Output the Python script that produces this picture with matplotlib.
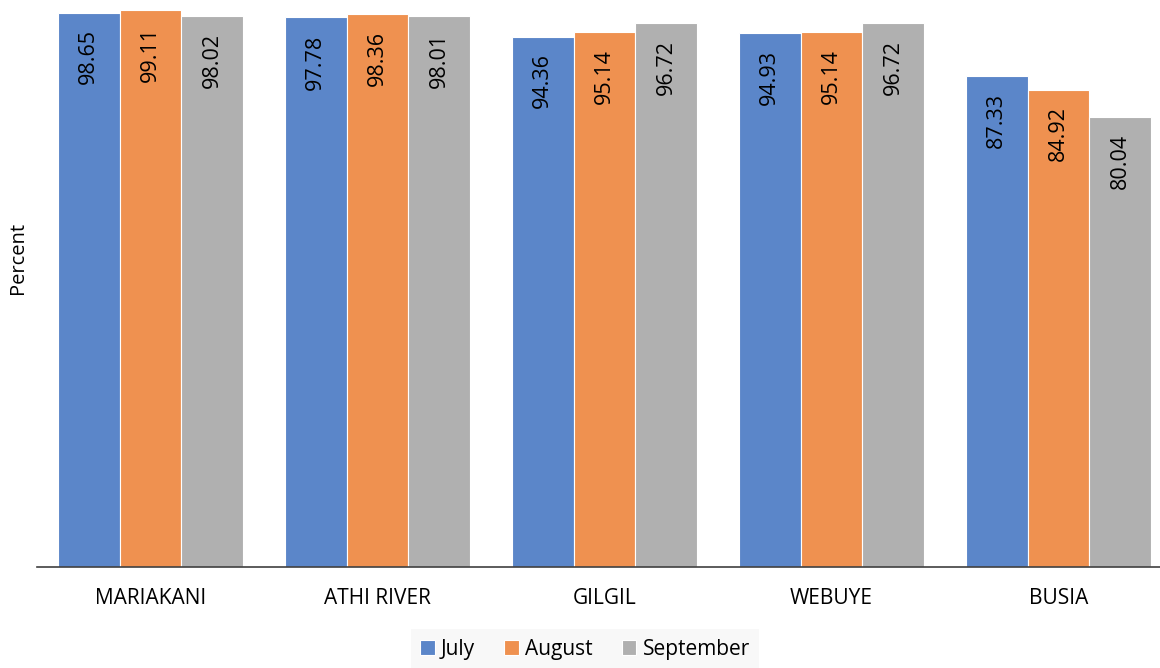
import matplotlib
matplotlib.use("Agg")
import matplotlib.pyplot as plt
import numpy as np

categories = ["MARIAKANI", "ATHI RIVER", "GILGIL", "WEBUYE", "BUSIA"]
series_names = ["July", "August", "September"]
july = [98.65, 97.78, 94.36, 94.93, 87.33]
august = [99.11, 98.36, 95.14, 95.14, 84.92]
september = [98.02, 98.01, 96.72, 96.72, 80.04]
colors = ["#5b86c9", "#ef9150", "#b0b0b0"]

plt.rcParams['font.family'] = ['Open Sans', 'DejaVu Sans']

W, H = 1160, 668
fig = plt.figure(figsize=(W/100, H/100), dpi=100)
left_px, bottom_px, top_px = 37, 567, 5
ax = fig.add_axes([left_px/W, 1-bottom_px/H, (W-left_px)/W, (bottom_px-top_px)/H])

x = np.arange(len(categories))
bw = 0.273
for i, (vals, name) in enumerate(zip([july, august, september], series_names)):
    pos = x + (i-1)*bw
    ax.bar(pos, vals, width=bw, color=colors[i], edgecolor="white", linewidth=0.8, label=name)
    for p, v in zip(pos, vals):
        ax.text(p, v - 3.0, f"{v:.2f}", rotation=90, ha="center", va="top", fontsize=15.5, color="black")

ax.set_xlim(-0.5, -0.5 + (W-left_px)/227)
ax.set_ylim(0, 100)
ax.set_yticks([])
ax.set_xticks(x)
ax.set_xticklabels(categories, fontsize=15)
ax.tick_params(axis='x', length=0, pad=15)
for s in ["top", "right", "left"]:
    ax.spines[s].set_visible(False)
ax.spines["bottom"].set_color("#404040")
ax.spines["bottom"].set_linewidth(1.2)

fig.text(18/W, 1-258/H, "Percent", rotation=90, ha="center", va="center", fontsize=14.5)

leg = fig.legend(loc="center", bbox_to_anchor=(585/W, 1-649/H), ncol=3, frameon=True,
                 fontsize=15, handlelength=0.7, handleheight=0.7, handletextpad=0.3,
                 columnspacing=1.4, borderpad=0.45, fancybox=False)
leg.get_frame().set_facecolor("#f7f7f7")
leg.get_frame().set_edgecolor("none")

fig.savefig("out.png", dpi=100)
